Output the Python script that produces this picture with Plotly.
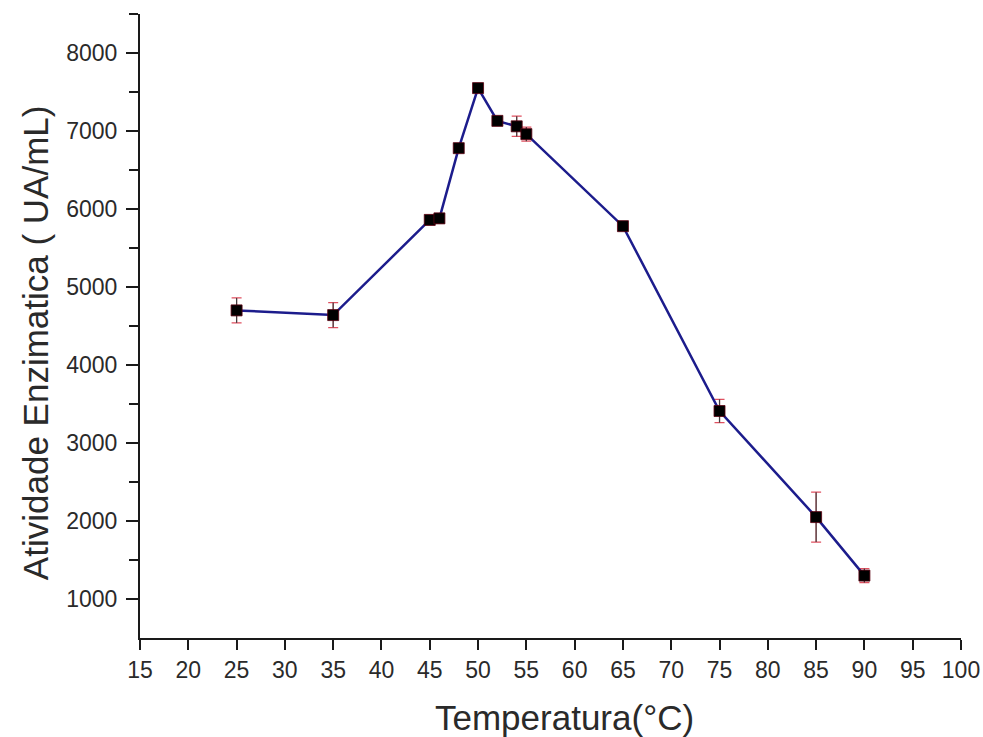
import plotly.graph_objects as go

# Enzyme activity vs temperature
temperatura = [25, 35, 45, 46, 48, 50, 52, 54, 55, 65, 75, 85, 90]
atividade = [4700, 4640, 5860, 5880, 6780, 7550, 7130, 7060, 6960, 5780, 3410, 2050, 1300]
desvio = [160, 160, 60, 60, 50, 50, 40, 130, 90, 50, 150, 320, 90]

x_ticks = list(range(15, 101, 5))
y_ticks = list(range(1000, 8001, 1000))

fig = go.Figure()

# red caps underneath
fig.add_trace(go.Scatter(
    x=temperatura, y=atividade, mode="markers",
    marker=dict(size=1, color="rgba(0,0,0,0)"),
    error_y=dict(type="data", array=desvio, visible=True,
                 color="#e05060", thickness=1.2, width=5),
    showlegend=False, hoverinfo="skip",
))
# dark stems
fig.add_trace(go.Scatter(
    x=temperatura, y=atividade, mode="markers",
    marker=dict(size=1, color="rgba(0,0,0,0)"),
    error_y=dict(type="data", array=desvio, visible=True,
                 color="#404040", thickness=1.2, width=0),
    showlegend=False, hoverinfo="skip",
))
fig.add_trace(go.Scatter(
    x=temperatura, y=atividade, mode="lines+markers",
    line=dict(color="#1c1c8c", width=2.5),
    marker=dict(symbol="square", size=11, color="#000000",
                line=dict(color="#5a0010", width=0.8)),
    showlegend=False,
))

font_family = "Liberation Sans, Arial, sans-serif"
axis_font = dict(family=font_family, size=23, color="#2a2a2a")
title_font = dict(family=font_family, size=35, color="#2a2a2a")

fig.update_layout(
    width=983, height=737,
    margin=dict(l=140, r=22, t=14, b=99, autoexpand=False),
    paper_bgcolor="white", plot_bgcolor="white",
    xaxis=dict(
        range=[15, 100], tickvals=x_ticks, ticktext=[str(v) for v in x_ticks],
        showgrid=False, zeroline=False, showline=True, linecolor="#1a1a1a", linewidth=2,
        ticks="outside", ticklen=10, tickwidth=2, tickcolor="#1a1a1a",
        tickfont=axis_font, automargin=False,
    ),
    yaxis=dict(
        range=[500, 8500], tickvals=y_ticks, ticktext=[str(v) for v in y_ticks],
        showgrid=False, zeroline=False, showline=True, linecolor="#1a1a1a", linewidth=2,
        ticks="outside", ticklen=12, tickwidth=2, tickcolor="#1a1a1a",
        tickfont=axis_font, ticklabelstandoff=4, automargin=False,
        minor=dict(tickvals=[v + 500 for v in y_ticks], ticks="outside", ticklen=9,
                   tickwidth=2, tickcolor="#1a1a1a"),
    ),
    annotations=[
        dict(text="Temperatura(°C)", xref="paper", yref="paper", x=0.517, y=-0.128,
             xanchor="center", yanchor="middle", showarrow=False, font=title_font),
        dict(text="Atividade Enzimatica ( UA/mL)", xref="paper", yref="paper",
             x=-0.128, y=0.474, xanchor="center", yanchor="middle", textangle=-90,
             showarrow=False, font=title_font),
    ],
)

fig.write_html("out.html")
